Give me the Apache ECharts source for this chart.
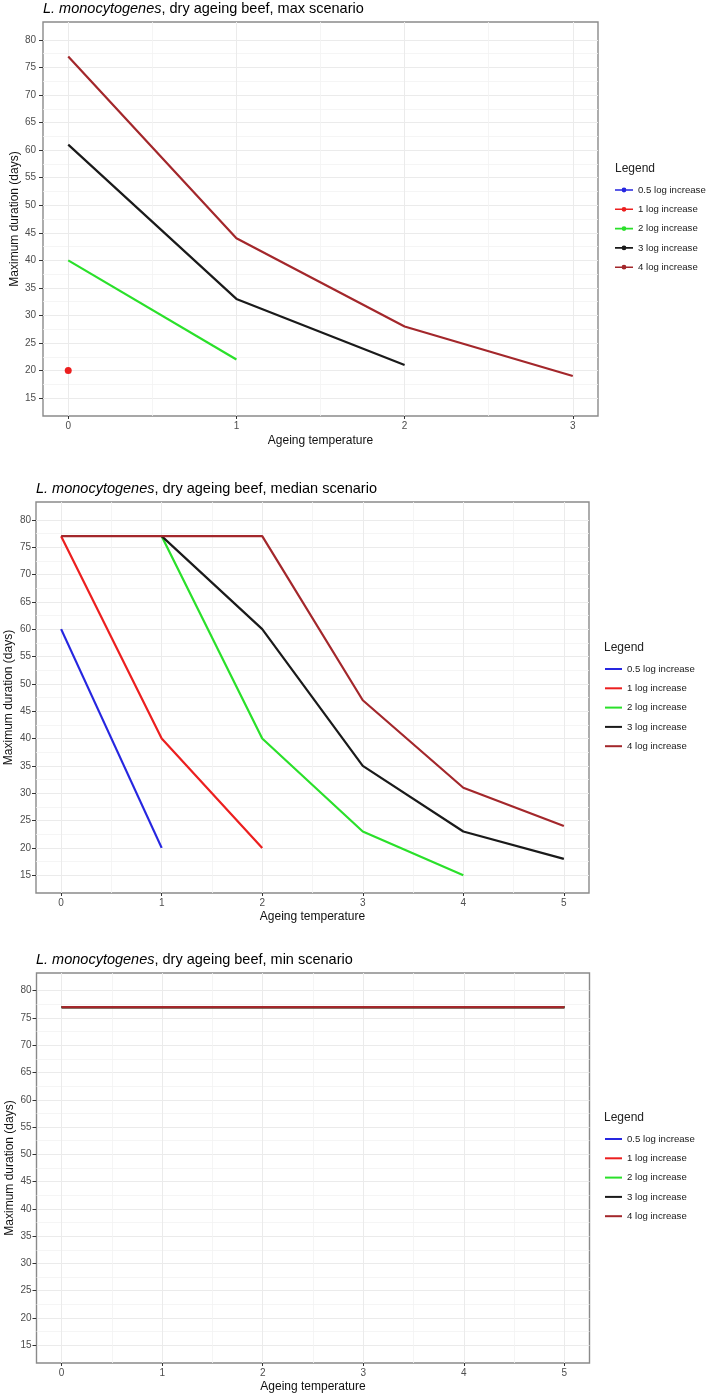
<!DOCTYPE html>
<html>
<head>
<meta charset="utf-8">
<script src="https://cdn.jsdelivr.net/npm/echarts@6/dist/echarts.min.js"></script>
<style>
html,body{margin:0;padding:0;background:#fff;}
#c{width:709px;height:1396px;}
</style>
</head>
<body>
<div id="c"></div>
<script>
// ---------- data ----------
const seriesNames = ['0.5 log increase', '1 log increase', '2 log increase', '3 log increase', '4 log increase'];

// max scenario
const maxTemps = [0, 1, 2, 3];
const maxLog05 = [null, null, null, null];
const maxLog1  = [20, null, null, null];
const maxLog2  = [40, 22, null, null];
const maxLog3  = [61, 33, 21, null];
const maxLog4  = [77, 44, 28, 19];

// median scenario
const medTemps = [0, 1, 2, 3, 4, 5];
const medLog05 = [60, 20, null, null, null, null];
const medLog1  = [77, 40, 20, null, null, null];
const medLog2  = [null, 77, 40, 23, 15, null];
const medLog3  = [null, 77, 60, 35, 23, 18];
const medLog4  = [77, 77, 77, 47, 31, 24];

// min scenario
const minTemps = [0, 1, 2, 3, 4, 5];
const minLog05 = [77, 77, 77, 77, 77, 77];
const minLog1  = [77, 77, 77, 77, 77, 77];
const minLog2  = [77, 77, 77, 77, 77, 77];
const minLog3  = [77, 77, 77, 77, 77, 77];
const minLog4  = [77, 77, 77, 77, 77, 77];

// tick labels
const yTicks = [15, 20, 25, 30, 35, 40, 45, 50, 55, 60, 65, 70, 75, 80];
const maxXTicks = [0, 1, 2, 3];
const fullXTicks = [0, 1, 2, 3, 4, 5];

const scenarioTitles = ['max scenario', 'median scenario', 'min scenario'];

// ---------- styles ----------
const F = '"Liberation Sans", Arial, Helvetica, sans-serif';
const seriesColors = ['#2626e0', '#ec1f1f', '#2ae02a', '#1a1a1a', '#a3272b'];

const panels = [
  { temps: maxTemps, vals: [maxLog05, maxLog1, maxLog2, maxLog3, maxLog4], xt: maxXTicks,
    grid: { left: 43, top: 22, width: 555, height: 394 }, titleTop: 1, titleLeft: 43,
    xNameGap: 19, yNameGap: 22, yLabMargin: 7, legLeft: 615, legTop: 184, legTitleTop: 162, legTitleLeft: 615, dotIcon: true },
  { temps: medTemps, vals: [medLog05, medLog1, medLog2, medLog3, medLog4], xt: fullXTicks,
    grid: { left: 36, top: 502, width: 553, height: 391 }, titleTop: 481, titleLeft: 36,
    xNameGap: 18, yNameGap: 21, yLabMargin: 5, legLeft: 605, legTop: 663, legTitleTop: 641, legTitleLeft: 604, dotIcon: false },
  { temps: minTemps, vals: [minLog05, minLog1, minLog2, minLog3, minLog4], xt: fullXTicks,
    grid: { left: 36.5, top: 973, width: 553, height: 390 }, titleTop: 952, titleLeft: 36,
    xNameGap: 18, yNameGap: 21, yLabMargin: 5, legLeft: 605, legTop: 1133, legTitleTop: 1111, legTitleLeft: 604, dotIcon: false }
];

function expand(ticks) {
  const lo = ticks[0], hi = ticks[ticks.length - 1], pad = 0.05 * (hi - lo);
  return [lo - pad, hi + pad];
}
function mids(ticks) {
  return ticks.slice(1).map((t, i) => (t + ticks[i]) / 2);
}

const grids = [], xAxes = [], yAxes = [], series = [], titles = [], legends = [];
const dotIcon = 'path://M0,2.2L18,2.2L18,3.8L0,3.8Z M6.6,3 A2.4,2.4 0 1,1 11.4,3 A2.4,2.4 0 1,1 6.6,3Z';

panels.forEach((p, gi) => {
  grids.push(Object.assign({ show: true, borderColor: '#8a8a8a', borderWidth: 1.4, backgroundColor: '#fff',
    containLabel: false, outerBoundsMode: 'none' }, p.grid));
  const [xmin, xmax] = expand(p.xt);
  const [ymin, ymax] = expand(yTicks);
  const xm = mids(p.xt), ym = mids(yTicks);
  xAxes.push({
    type: 'value', gridIndex: gi, min: xmin, max: xmax, position: 'bottom',
    axisLine: { show: false, onZero: false },
    axisTick: { show: true, customValues: p.xt, length: 3, lineStyle: { color: '#333', width: 1 } },
    axisLabel: { customValues: p.xt, margin: 5, fontSize: 10, color: '#4d4d4d', fontFamily: F },
    splitLine: { show: true, lineStyle: { color: '#ebebeb', width: 1 } },
    name: 'Ageing temperature', nameLocation: 'middle', nameGap: p.xNameGap, nameMoveOverlap: false,
    nameTextStyle: { fontSize: 12, color: '#111', fontFamily: F }
  });
  xAxes.push({
    type: 'value', gridIndex: gi, min: xmin, max: xmax, position: 'top',
    axisLine: { show: false, onZero: false }, axisTick: { show: false, customValues: xm },
    axisLabel: { show: false, customValues: xm },
    splitLine: { show: true, lineStyle: { color: '#f2f2f2', width: 0.8 } }
  });
  yAxes.push({
    type: 'value', gridIndex: gi, min: ymin, max: ymax, position: 'left',
    axisLine: { show: false, onZero: false },
    axisTick: { show: true, customValues: yTicks, length: 4, lineStyle: { color: '#333', width: 1 } },
    axisLabel: { customValues: yTicks, margin: p.yLabMargin, fontSize: 10, color: '#4d4d4d', fontFamily: F },
    splitLine: { show: true, lineStyle: { color: '#ebebeb', width: 1 } },
    name: 'Maximum duration (days)', nameLocation: 'middle', nameGap: p.yNameGap, nameMoveOverlap: false,
    nameTextStyle: { fontSize: 12, color: '#111', fontFamily: F }
  });
  yAxes.push({
    type: 'value', gridIndex: gi, min: ymin, max: ymax, position: 'right',
    axisLine: { show: false, onZero: false }, axisTick: { show: false, customValues: ym },
    axisLabel: { show: false, customValues: ym },
    splitLine: { show: true, lineStyle: { color: '#f2f2f2', width: 0.8 } }
  });
  p.vals.forEach((vals, k) => {
    const data = p.temps.map((t, i) => [t, vals[i]]).filter(d => d[1] !== null);
    const single = data.length === 1;
    series.push({
      type: 'line', name: seriesNames[k], xAxisIndex: gi * 2, yAxisIndex: gi * 2,
      data: data, color: seriesColors[k],
      lineStyle: { width: 2.2, color: seriesColors[k] },
      itemStyle: { color: seriesColors[k] },
      symbol: single ? 'circle' : 'none', symbolSize: 7, showSymbol: single,
      animation: false, silent: true, z: 3 + k
    });
  });
  titles.push({
    text: '{i|L. monocytogenes}{n|, dry ageing beef, ' + scenarioTitles[gi] + '}',
    left: p.titleLeft, top: p.titleTop, padding: 0,
    textStyle: {
      fontWeight: 'normal',
      rich: {
        i: { fontStyle: 'italic', fontWeight: 'normal', fontSize: 14.5, fontFamily: F, color: '#000', lineHeight: 16 },
        n: { fontWeight: 'normal', fontSize: 14.5, fontFamily: F, color: '#000', lineHeight: 16 }
      }
    }
  });
  titles.push({
    text: 'Legend', left: p.legTitleLeft, top: p.legTitleTop, padding: 0,
    textStyle: { fontSize: 12, fontWeight: 'normal', fontFamily: F, color: '#222', lineHeight: 14 }
  });
  legends.push({
    orient: 'vertical', left: p.legLeft, top: p.legTop, padding: 0,
    itemGap: 7.3, itemWidth: p.dotIcon ? 18 : 17, itemHeight: p.dotIcon ? 5 : 2,
    icon: p.dotIcon ? dotIcon : 'rect',
    data: seriesNames, selectedMode: false,
    textStyle: { fontSize: 9.6, color: '#1a1a1a', fontFamily: F, lineHeight: 12 }
  });
});

const chart = echarts.init(document.getElementById('c'), null, { renderer: 'canvas' });
chart.setOption({
  animation: false,
  backgroundColor: '#fff',
  title: titles,
  legend: legends,
  grid: grids,
  xAxis: xAxes,
  yAxis: yAxes,
  series: series
});
</script>
</body>
</html>
